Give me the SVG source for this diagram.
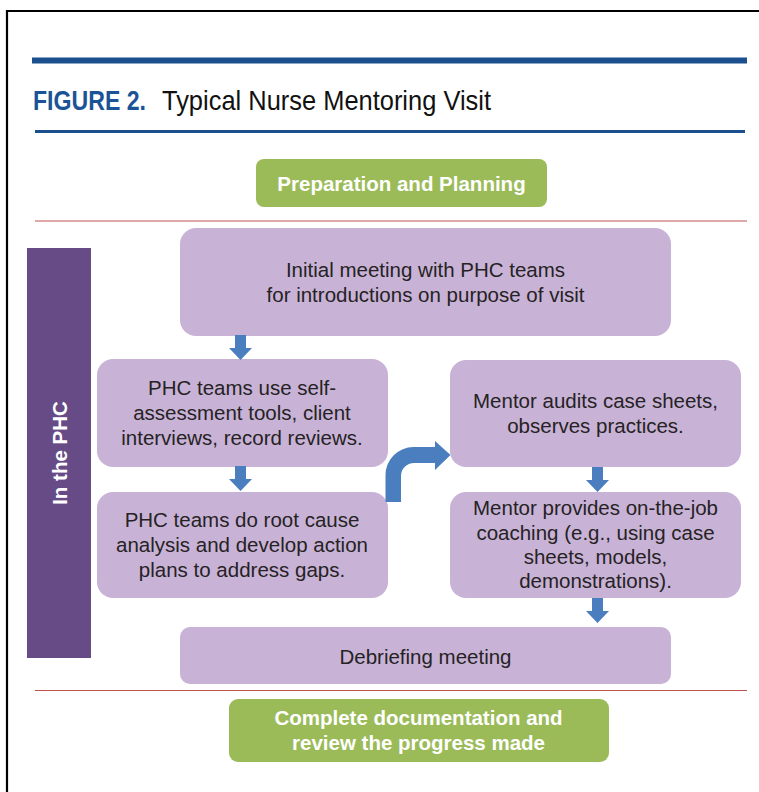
<svg xmlns="http://www.w3.org/2000/svg" width="759" height="792" viewBox="0 0 759 792">
  <style>
    .step { fill: #C8B3D7; }
    .stage { fill: #9BBB59; }
    .txt { font-family: "Liberation Sans", Arial, sans-serif; font-size: 20.5px; fill: #262223; text-anchor: middle; }
    .stxt { font-family: "Liberation Sans", Arial, sans-serif; font-size: 20.5px; font-weight: bold; fill: #FFFFFF; text-anchor: middle; }
    .rule { stroke: #C0504D; stroke-width: 1.2; }
    .arrow { fill: #4A7EBE; }
  </style>
  <defs>
    <path id="down" d="M-5.5,0 L5.5,0 L5.5,13 L11.5,13 L0,25 L-11.5,13 L-5.5,13 Z"/>
  </defs>

  <rect width="759" height="792" fill="#FFFFFF"/>
  <!-- frame -->
  <path d="M7,792 L7,11 L759,11" fill="none" stroke="#000000" stroke-width="2.2"/>

  <!-- heading -->
  <g id="heading">
    <rect x="32" y="57.5" width="715" height="6" fill="#1B4F8E"/>
    <text x="33" y="110" font-family="Liberation Sans, Arial, sans-serif" font-size="28" font-weight="bold" fill="#1B5496" textLength="113" lengthAdjust="spacingAndGlyphs">FIGURE 2.</text>
    <text x="162" y="110" font-family="Liberation Sans, Arial, sans-serif" font-size="28" fill="#111111" textLength="329" lengthAdjust="spacingAndGlyphs">Typical Nurse Mentoring Visit</text>
    <rect x="35" y="130" width="710" height="3" fill="#1B4F8E"/>
  </g>

  <!-- section rules -->
  <line class="rule" x1="35" y1="221" x2="747" y2="221"/>
  <line class="rule" x1="35" y1="690.5" x2="747" y2="690.5"/>

  <g id="prep">
    <rect class="stage" x="256" y="159" width="291" height="48" rx="8"/>
    <text class="stxt" x="401.5" y="190.5">Preparation and Planning</text>
  </g>

  <g id="in-phc">
    <rect x="27" y="248" width="64" height="410" fill="#664B87"/>
    <text class="stxt" transform="translate(66.5,453) rotate(-90)" x="0" y="0">In the PHC</text>
  </g>

  <g id="initial-meeting">
    <rect class="step" x="180" y="228" width="491" height="108" rx="16"/>
    <text class="txt" x="425.5" y="277">Initial meeting with PHC teams</text>
    <text class="txt" x="425.5" y="302">for introductions on purpose of visit</text>
  </g>

  <g id="self-assessment">
    <rect class="step" x="97" y="359" width="291" height="108" rx="16"/>
    <text class="txt" x="242" y="395">PHC teams use self-</text>
    <text class="txt" x="242" y="420">assessment tools, client</text>
    <text class="txt" x="242" y="445">interviews, record reviews.</text>
  </g>

  <g id="root-cause">
    <rect class="step" x="97" y="492" width="291" height="106" rx="16"/>
    <text class="txt" x="242" y="527">PHC teams do root cause</text>
    <text class="txt" x="242" y="552">analysis and develop action</text>
    <text class="txt" x="242" y="577">plans to address gaps.</text>
  </g>

  <g id="mentor-audits">
    <rect class="step" x="450" y="360" width="291" height="107" rx="16"/>
    <text class="txt" x="595.5" y="408">Mentor audits case sheets,</text>
    <text class="txt" x="595.5" y="433">observes practices.</text>
  </g>

  <g id="coaching">
    <rect class="step" x="450" y="492" width="291" height="106" rx="16"/>
    <text class="txt" x="595.5" y="515">Mentor provides on-the-job</text>
    <text class="txt" x="595.5" y="540">coaching (e.g., using case</text>
    <text class="txt" x="595.5" y="564">sheets, models,</text>
    <text class="txt" x="595.5" y="588">demonstrations).</text>
  </g>

  <g id="debriefing">
    <rect class="step" x="180" y="627" width="491" height="57" rx="10"/>
    <text class="txt" x="425.5" y="664">Debriefing meeting</text>
  </g>

  <g id="wrap-up">
    <rect class="stage" x="229" y="699" width="380" height="63" rx="9"/>
    <text class="stxt" x="418.5" y="725">Complete documentation and</text>
    <text class="stxt" x="418.5" y="750">review the progress made</text>
  </g>

  <!-- connectors -->
  <g id="connectors">
    <use href="#down" class="arrow" x="240.5" y="335"/>
    <use href="#down" class="arrow" x="240.5" y="466"/>
    <use href="#down" class="arrow" x="597.5" y="467"/>
    <use href="#down" class="arrow" x="597.5" y="598"/>
    <path class="arrow" d="M385.5,502 L385.5,475 A28,28 0 0 1 413.5,447 L435,447 L435,441 L450.5,455 L435,470 L435,463 L414,463 A13,13 0 0 0 401,476 L401,502 Z"/>
  </g>
</svg>
